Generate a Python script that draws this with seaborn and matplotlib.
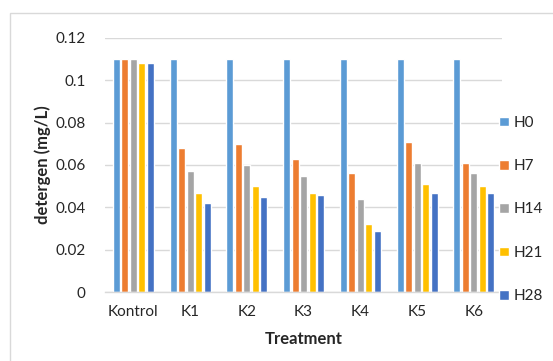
import matplotlib
matplotlib.use("Agg")
import matplotlib.pyplot as plt
import seaborn as sns
import pandas as pd
from matplotlib.ticker import FuncFormatter
from matplotlib.patches import Rectangle

categories = ["Kontrol", "K1", "K2", "K3", "K4", "K5", "K6"]
series = ["H0", "H7", "H14", "H21", "H28"]
H0 = [0.110, 0.110, 0.110, 0.110, 0.110, 0.110, 0.110]
H7 = [0.110, 0.068, 0.070, 0.063, 0.056, 0.071, 0.061]
H14 = [0.110, 0.057, 0.060, 0.055, 0.044, 0.061, 0.056]
H21 = [0.108, 0.047, 0.050, 0.047, 0.032, 0.051, 0.050]
H28 = [0.108, 0.042, 0.045, 0.046, 0.029, 0.047, 0.047]
colors = ["#5B9BD5", "#ED7D31", "#A5A5A5", "#FFC000", "#4472C4"]

rows = []
for name, vals in zip(series, [H0, H7, H14, H21, H28]):
    for c, v in zip(categories, vals):
        rows.append({"Treatment": c, "series": name, "value": v})
df = pd.DataFrame(rows)

sns.set_theme(style="white")
plt.rcParams["font.family"] = ["Lato", "DejaVu Sans"]

fig = plt.figure(figsize=(5.53, 3.61), dpi=100)
ax = fig.add_axes([0.190, 0.191, 0.718, 0.704])

sns.barplot(data=df, x="Treatment", y="value", hue="series", order=categories,
            hue_order=series, palette=colors, width=0.75, gap=0.18,
            saturation=1, ax=ax, legend=True)

ax.set_ylim(0, 0.12)
ax.set_yticks([0, 0.02, 0.04, 0.06, 0.08, 0.1, 0.12])
ax.yaxis.set_major_formatter(FuncFormatter(lambda v, p: "%g" % round(v, 4)))
ax.grid(axis="y", color="#D9D9D9", linewidth=1)
ax.set_axisbelow(True)
for s in ["top", "right", "left"]:
    ax.spines[s].set_visible(False)
ax.spines["bottom"].set_color("#D9D9D9")
ax.spines["bottom"].set_linewidth(1)
ax.tick_params(axis="both", length=0, labelsize=11, colors="#262626")
ax.tick_params(axis="y", pad=14)
ax.tick_params(axis="x", pad=9)
ax.set_xlabel("Treatment", fontsize=12, fontweight="bold", color="#262626", labelpad=9)
ax.set_ylabel("detergen (mg/L)", fontsize=12, fontweight="bold", color="#262626", labelpad=3)

handles, labels = ax.get_legend_handles_labels()
ax.get_legend().remove()
fig.legend(handles, labels, loc="upper left", bbox_to_anchor=(0.881, 0.713),
           frameon=False, fontsize=11, handlelength=0.6, handleheight=0.6,
           handletextpad=0.35, labelspacing=1.92, labelcolor="#262626",
           borderpad=0.3)

fig.patches.append(Rectangle((10 / 553, -0.1), 1.2, 1.1 - 13 / 361,
                             transform=fig.transFigure, fill=False,
                             edgecolor="#D9D9D9", linewidth=1))

fig.savefig("out.png", dpi=100)
